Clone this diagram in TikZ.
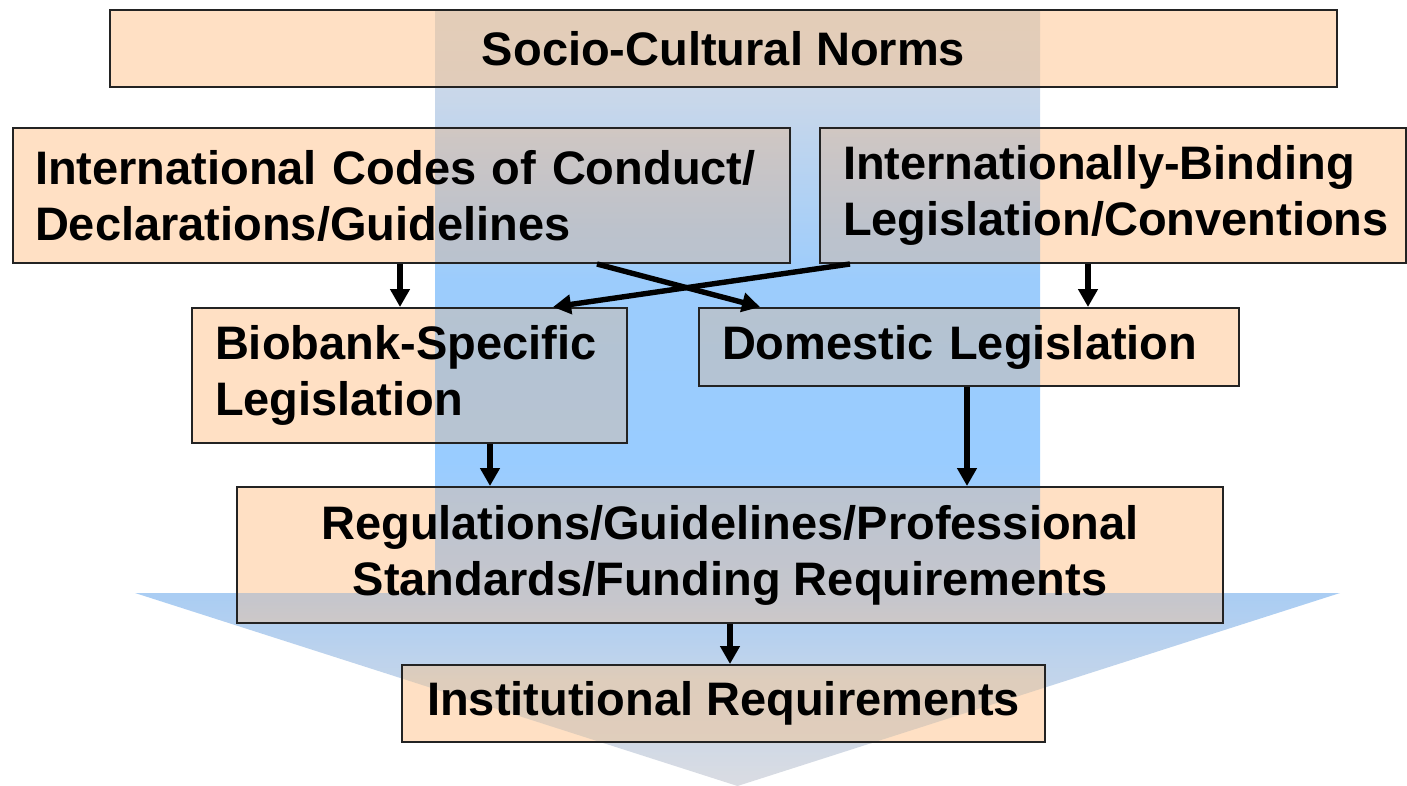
\documentclass[tikz,border=0pt]{standalone}
\usepackage{fontspec}
\setmainfont{Liberation Sans}
\usetikzlibrary{arrows.meta}
\pgfdeclarelayer{bg}
\pgfsetlayers{bg,main}
\definecolor{peach}{RGB}{255,224,196}
\definecolor{boxline}{RGB}{35,35,35}
\definecolor{B0}{RGB}{218,220,226}
\definecolor{B1}{RGB}{190,211,236}
\definecolor{B2}{RGB}{170,205,243}
\definecolor{B3}{RGB}{153,204,255}
\definecolor{B4}{RGB}{156,204,252}
\definecolor{B5}{RGB}{200,215,234}
\definecolor{B6}{RGB}{212,220,232}
\definecolor{O0}{RGB}{226,206,188}
\definecolor{O1}{RGB}{222,205,188}
\definecolor{O2}{RGB}{198,198,204}
\definecolor{O3}{RGB}{185,196,210}
\definecolor{O4}{RGB}{179,195,211}
\definecolor{O5}{RGB}{188,194,204}
\definecolor{O6}{RGB}{205,198,196}
\definecolor{O7}{RGB}{224,204,186}
\definecolor{O8}{RGB}{228,205,184}
\pgfdeclareverticalshading{bandshade}{100bp}{color(0bp)=(B0); color(25bp)=(B0); color(33.1bp)=(B1); color(37.3bp)=(B2); color(46bp)=(B3); color(57.6bp)=(B4); color(69.2bp)=(B5); color(75bp)=(B6); color(100bp)=(B6)}
\pgfdeclareverticalshading{overshade}{100bp}{color(0bp)=(O0); color(25bp)=(O0); color(31.8bp)=(O1); color(37bp)=(O2); color(45.4bp)=(O3); color(53.1bp)=(O4); color(60.8bp)=(O5); color(66.6bp)=(O6); color(69.8bp)=(O7); color(75bp)=(O8); color(100bp)=(O8)}
\begin{document}
\begin{tikzpicture}[x=0.5pt,y=-0.5pt,
  box/.style={draw=boxline, line width=1pt, inner sep=0pt, text=black,
    font=\fontsize{23.5}{28}\selectfont\bfseries},
  arr/.style={line width=2.7pt, draw=black, -{Triangle[length=9pt,width=9.5pt]}}]
\useasboundingbox (0,0) rectangle (1407,786);
% nodes
\node[box, minimum width=613.5pt, minimum height=38.5pt] (sc) at (723.5,48.5) {Socio-Cultural Norms};
\node[box, minimum width=388.5pt, minimum height=67.5pt, text width=366.5pt, align=left] (ic) at (401.5,195.5)
  {International Codes of Conduct/\\Declarations/Guidelines};
\node[box, minimum width=293pt, minimum height=67.5pt, text width=270pt, align=left] (ib) at (1113,195.5)
  {Internationally-Binding\\Legislation/Conventions};
\node[box, minimum width=217.5pt, minimum height=67.5pt, text width=194.5pt, align=left] (bb) at (409.5,375.5)
  {Biobank-Specific\\Legislation};
\node[box, minimum width=270pt, minimum height=39pt, text width=247pt, align=left] (dd) at (969,347)
  {Domestic Legislation};
\node[box, minimum width=493pt, minimum height=68pt, align=center] (rg) at (730,555)
  {Regulations/Guidelines/Professional\\Standards/Funding Requirements};
\node[box, minimum width=321.5pt, minimum height=38.5pt] (ir) at (723.5,703.5) {Institutional Requirements};
% column coordinates
\coordinate (x400) at (400,0);
\coordinate (x1088) at (1088,0);
\coordinate (x597) at (597,0);
\coordinate (x760) at (760,0);
\coordinate (x850) at (850,0);
\coordinate (x553) at (553,0);
\coordinate (x490) at (490,0);
\coordinate (x967) at (967,0);
% connectors
\draw[arr] (ic.south -| x400) -- (bb.north -| x400);
\draw[arr] (ib.south -| x1088) -- (dd.north -| x1088);
\draw[arr] (ic.south -| x597) -- (dd.north -| x760);
\draw[arr] (ib.south -| x850) -- (bb.north -| x553);
\draw[arr] (bb.south -| x490) -- (rg.north -| x490);
\draw[arr] (dd.south -| x967) -- (rg.north -| x967);
\draw[arr] (rg.south) -- (ir.north -| rg.south);
% background
\begin{pgfonlayer}{bg}
  \path[shading=bandshade] (435,10) -- (1040,10) -- (1040,593) -- (1340,593) -- (737.5,786) -- (135,593) -- (435,593) -- cycle;
  \foreach \n in {sc,ic,ib,bb,dd,rg,ir}{\fill[peach] (\n.north west) rectangle (\n.south east);}
  \begin{scope}
    \clip (435,10) -- (1040,10) -- (1040,593) -- (1340,593) -- (737.5,786) -- (135,593) -- (435,593) -- cycle;
    \clip (sc.north west) rectangle (sc.south east)
          (ic.north west) rectangle (ic.south east)
          (ib.north west) rectangle (ib.south east)
          (bb.north west) rectangle (bb.south east)
          (dd.north west) rectangle (dd.south east)
          (rg.north west) rectangle (rg.south east)
          (ir.north west) rectangle (ir.south east);
    \path[shading=overshade] (135,10) rectangle (1340,786);
  \end{scope}
\end{pgfonlayer}
\end{tikzpicture}
\end{document}
